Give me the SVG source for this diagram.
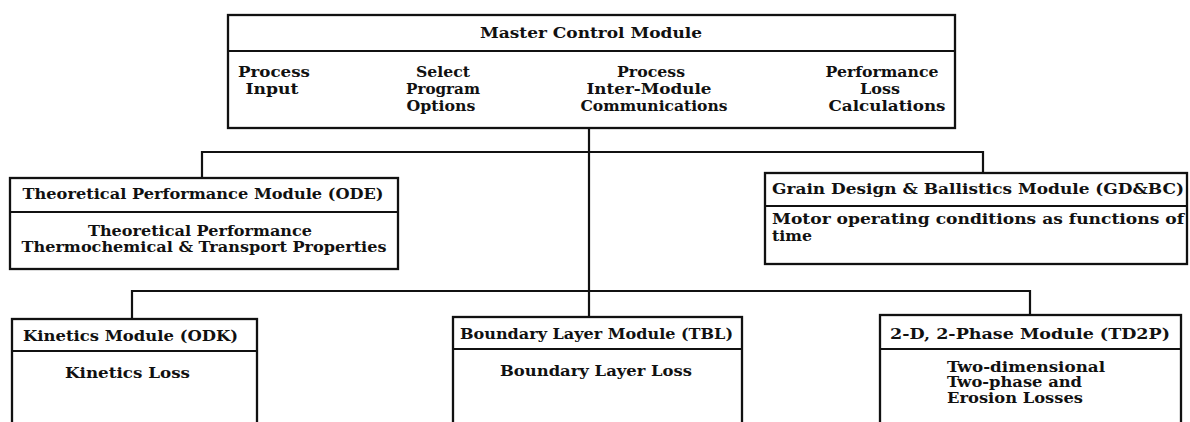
<svg xmlns="http://www.w3.org/2000/svg" width="1190" height="422" viewBox="0 0 1190 422">
  <style>
    .box { fill: #ffffff; stroke: #111111; stroke-width: 2.3; }
    .div { stroke: #111111; stroke-width: 2.2; fill: none; }
    .wire { stroke: #111111; stroke-width: 2.2; fill: none; }
    text { font-family: "DejaVu Serif", "Liberation Serif", serif; font-weight: bold; font-size: 14px; fill: #111111; }
    .c { text-anchor: middle; }
  </style>
  <rect width="1190" height="422" fill="#ffffff"/>

  <!-- connectors -->
  <g id="connectors">
    <path class="wire" d="M589 128 V317"/>
    <path class="wire" d="M202 178 V152 H983 V173"/>
    <path class="wire" d="M132 319 V291 H1030 V315"/>
  </g>

  <!-- master control module -->
  <g id="master">
    <rect class="box" x="228" y="15" width="727" height="113"/>
    <line class="div" x1="228" y1="51" x2="955" y2="51"/>
    <text class="c" x="591" y="38" textLength="222" lengthAdjust="spacingAndGlyphs">Master Control Module</text>
    <text class="c" x="274" y="77" textLength="72" lengthAdjust="spacingAndGlyphs">Process</text>
    <text class="c" x="272" y="94" textLength="53" lengthAdjust="spacingAndGlyphs">Input</text>
    <text class="c" x="443" y="77" textLength="54" lengthAdjust="spacingAndGlyphs">Select</text>
    <text class="c" x="443" y="94" textLength="74" lengthAdjust="spacingAndGlyphs">Program</text>
    <text class="c" x="441" y="111" textLength="69" lengthAdjust="spacingAndGlyphs">Options</text>
    <text class="c" x="651" y="77" textLength="68" lengthAdjust="spacingAndGlyphs">Process</text>
    <text class="c" x="649" y="94" textLength="125" lengthAdjust="spacingAndGlyphs">Inter-Module</text>
    <text class="c" x="654" y="111" textLength="147" lengthAdjust="spacingAndGlyphs">Communications</text>
    <text class="c" x="882" y="77" textLength="113" lengthAdjust="spacingAndGlyphs">Performance</text>
    <text class="c" x="880" y="94" textLength="40" lengthAdjust="spacingAndGlyphs">Loss</text>
    <text class="c" x="887" y="111" textLength="117" lengthAdjust="spacingAndGlyphs">Calculations</text>
  </g>

  <!-- theoretical performance module -->
  <g id="ode">
    <rect class="box" x="10" y="178" width="388" height="91"/>
    <line class="div" x1="10" y1="212" x2="398" y2="212"/>
    <text class="c" x="203" y="199" textLength="361" lengthAdjust="spacingAndGlyphs">Theoretical Performance Module (ODE)</text>
    <text class="c" x="200" y="236" textLength="224" lengthAdjust="spacingAndGlyphs">Theoretical Performance</text>
    <text class="c" x="204" y="252" textLength="365" lengthAdjust="spacingAndGlyphs">Thermochemical &amp; Transport Properties</text>
  </g>

  <!-- grain design and ballistics module -->
  <g id="gdbc">
    <rect class="box" x="765" y="173" width="422" height="91"/>
    <line class="div" x1="765" y1="206" x2="1187" y2="206"/>
    <text x="772" y="194" textLength="412" lengthAdjust="spacingAndGlyphs">Grain Design &amp; Ballistics Module (GD&amp;BC)</text>
    <text x="772" y="224" textLength="412" lengthAdjust="spacingAndGlyphs">Motor operating conditions as functions of</text>
    <text x="772" y="241" textLength="40" lengthAdjust="spacingAndGlyphs">time</text>
  </g>

  <!-- kinetics module -->
  <g id="odk">
    <rect class="box" x="12" y="319" width="245" height="106"/>
    <line class="div" x1="12" y1="351" x2="257" y2="351"/>
    <text x="23" y="341" textLength="215" lengthAdjust="spacingAndGlyphs">Kinetics Module (ODK)</text>
    <text x="65" y="378" textLength="125" lengthAdjust="spacingAndGlyphs">Kinetics Loss</text>
  </g>

  <!-- boundary layer module -->
  <g id="tbl">
    <rect class="box" x="453" y="317" width="289" height="108"/>
    <line class="div" x1="453" y1="349" x2="742" y2="349"/>
    <text x="460" y="339" textLength="273" lengthAdjust="spacingAndGlyphs">Boundary Layer Module (TBL)</text>
    <text x="500" y="376" textLength="192" lengthAdjust="spacingAndGlyphs">Boundary Layer Loss</text>
  </g>

  <!-- two-dimensional two-phase module -->
  <g id="td2p">
    <rect class="box" x="880" y="315" width="301" height="110"/>
    <line class="div" x1="880" y1="349" x2="1181" y2="349"/>
    <text x="890" y="339" textLength="280" lengthAdjust="spacingAndGlyphs">2-D, 2-Phase Module (TD2P)</text>
    <text x="947" y="372" textLength="158" lengthAdjust="spacingAndGlyphs">Two-dimensional</text>
    <text x="947" y="387" textLength="135" lengthAdjust="spacingAndGlyphs">Two-phase and</text>
    <text x="947" y="403" textLength="136" lengthAdjust="spacingAndGlyphs">Erosion Losses</text>
  </g>
</svg>
